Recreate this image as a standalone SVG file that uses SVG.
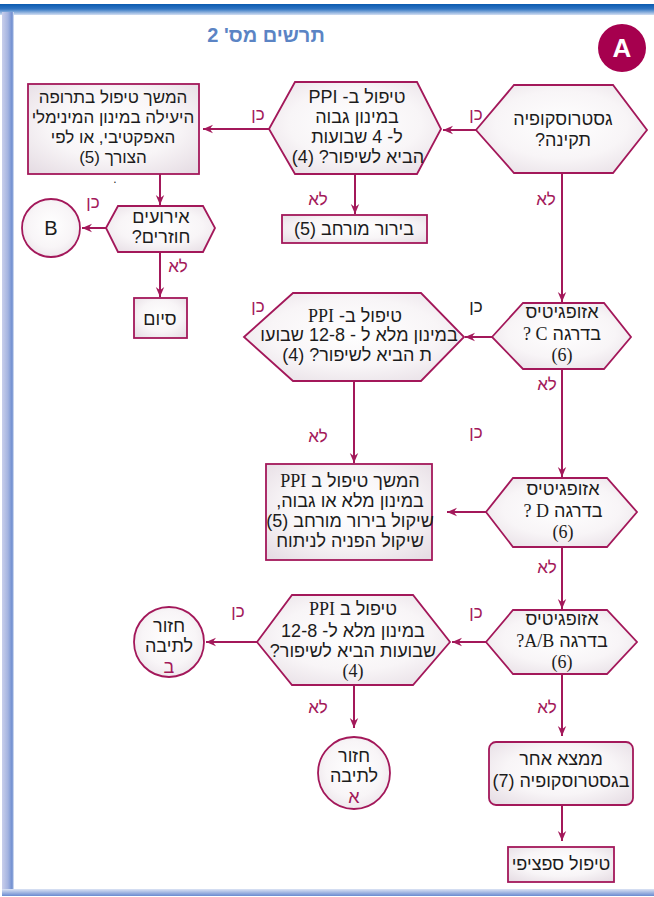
<svg xmlns="http://www.w3.org/2000/svg" width="654" height="897" viewBox="0 0 654 897">
<defs>
<linearGradient id="topbar" x1="0" y1="0" x2="0" y2="1"><stop offset="0" stop-color="#0a5ab0"/><stop offset="0.45" stop-color="#2f74c2"/><stop offset="1" stop-color="#d3def2"/></linearGradient>
<linearGradient id="leftbar" x1="0" y1="0" x2="1" y2="0"><stop offset="0" stop-color="#c9cfeb"/><stop offset="0.5" stop-color="#a4b3e0"/><stop offset="0.85" stop-color="#6f8ed0"/><stop offset="1" stop-color="#e8eef9"/></linearGradient>
<linearGradient id="botbar" x1="0" y1="0" x2="0" y2="1"><stop offset="0" stop-color="#dbe3f4"/><stop offset="1" stop-color="#6a8bd0"/></linearGradient>
<radialGradient id="g" cx="0.5" cy="0.45" r="0.7"><stop offset="0" stop-color="#ffffff"/><stop offset="0.55" stop-color="#f8f5f7"/><stop offset="1" stop-color="#e6dde4"/></radialGradient>
<marker id="ah" viewBox="0 0 10 10" refX="10" refY="5" markerWidth="11" markerHeight="10" markerUnits="userSpaceOnUse" orient="auto"><path d="M0,0.8 L10,5 L0,9.2 L3.2,5 z" fill="#a3185a"/></marker>
</defs>
<style>
.n{fill:url(#g);stroke:#a3185a;stroke-width:1.8}
.t{font-family:"Liberation Sans",Arial,sans-serif;font-size:18px;fill:#1c1c1c;text-anchor:middle;direction:rtl}
.s{font-family:"Liberation Serif","Times New Roman",serif}
.l{font-family:"Liberation Sans",Arial,sans-serif;font-size:17px;fill:#a3185a;text-anchor:middle;direction:rtl}
.c{stroke:#a3185a;stroke-width:2;fill:none;marker-end:url(#ah)}
</style>
<rect x="0" y="0" width="654" height="897" fill="#ffffff"/>
<g id="frame">
<rect x="0" y="4" width="654" height="11" fill="url(#topbar)"/>
<rect x="2" y="12" width="12" height="884" fill="url(#leftbar)"/>
<rect x="2" y="889" width="652" height="7" fill="url(#botbar)"/>
</g>
<g id="title"><text x="266" y="42" style="font-family:'Liberation Sans',Arial,sans-serif;font-size:20px;font-weight:bold;fill:#5b84c4;text-anchor:middle;direction:rtl">תרשים מס' 2</text></g>
<g id="badgeA"><circle cx="622" cy="48" r="24" fill="#a6004e"/><text x="622" y="57" style="font-family:'Liberation Sans',Arial,sans-serif;font-size:26px;font-weight:bold;fill:#ffffff;text-anchor:middle">A</text></g>

<g id="connectors">
<line class="c" x1="476" y1="130" x2="443" y2="130"/>
<line class="c" x1="269" y1="129" x2="203" y2="129"/>
<line class="c" x1="355" y1="174" x2="355" y2="214"/>
<line class="c" x1="160" y1="174" x2="160" y2="205"/>
<line class="c" x1="106" y1="228" x2="82" y2="228"/>
<line class="c" x1="160" y1="252" x2="160" y2="297"/>
<line class="c" x1="562" y1="173" x2="562" y2="302"/>
<line class="c" x1="492" y1="337" x2="465" y2="337"/>
<line class="c" x1="354" y1="381" x2="354" y2="463"/>
<line class="c" x1="562" y1="369" x2="562" y2="477"/>
<line class="c" x1="486" y1="512" x2="447" y2="512"/>
<line class="c" x1="562" y1="547" x2="562" y2="609"/>
<line class="c" x1="486" y1="642" x2="452" y2="642"/>
<line class="c" x1="257" y1="642" x2="206" y2="642"/>
<line class="c" x1="354" y1="685" x2="354" y2="728"/>
<line class="c" x1="562" y1="674" x2="562" y2="736"/>
<line class="c" x1="562" y1="805" x2="562" y2="841"/>
</g>

<g id="labels">
<text class="l" x="476" y="120">כן</text>
<text class="l" x="546" y="205">לא</text>
<text class="l" x="258" y="120">כן</text>
<text class="l" x="318" y="205">לא</text>
<text class="l" x="93" y="208">כן</text>
<text class="l" x="178" y="272">לא</text>
<text class="l" x="476" y="312" style="fill:#1c1c1c">כן</text>
<text class="l" x="258" y="312">כן</text>
<text class="l" x="547" y="390">לא</text>
<text class="l" x="476" y="438">כן</text>
<text class="l" x="318" y="442">לא</text>
<text class="l" x="547" y="573">לא</text>
<text class="l" x="476" y="618">כן</text>
<text class="l" x="238" y="617">כן</text>
<text class="l" x="318" y="713">לא</text>
<text class="l" x="547" y="713">לא</text>
</g>

<g id="n1">
<polygon class="n" points="476,130 514,85 613,85 647,130 613,173 514,173"/>
<text class="t" x="563" y="125">גסטרוסקופיה</text>
<text class="t" x="563" y="146">תקינה?</text>
</g>
<g id="n2">
<polygon class="n" points="269,129 295,82 417,82 441,129 417,174 295,174"/>
<text class="t" x="357" y="103">טיפול ב- PPI</text>
<text class="t" x="357" y="123">במינון גבוה</text>
<text class="t" x="357" y="143">ל- 4 שבועות</text>
<text class="t" x="358" y="163">הביא לשיפור? (4)</text>
</g>
<g id="n3">
<rect class="n" x="28" y="84" width="171" height="90"/>
<text class="t" x="113" y="103" style="font-size:17px">המשך טיפול בתרופה</text>
<text class="t" x="113" y="123" style="font-size:17px">היעילה במינון המינימלי</text>
<text class="t" x="113" y="143" style="font-size:17px">האפקטיבי, או לפי</text>
<text class="t" x="113" y="163" style="font-size:17px">הצורך (5)</text>
<text class="t" x="115" y="183" style="font-size:12px">.</text>
</g>
<g id="n4">
<rect class="n" x="282" y="215" width="145" height="28"/>
<text class="t" x="354" y="235">בירור מורחב (5)</text>
</g>
<g id="n5">
<polygon class="n" points="106,228 118,206 203,206 215,228 203,252 118,252"/>
<text class="t" x="161" y="223">אירועים</text>
<text class="t" x="161" y="243">חוזרים?</text>
</g>
<g id="n6">
<circle class="n" cx="51" cy="228" r="29"/>
<text class="t" x="51" y="235" style="font-size:20px">B</text>
</g>
<g id="n7">
<rect class="n" x="134" y="298" width="53" height="40"/>
<text class="t" x="160" y="325">סיום</text>
</g>
<g id="n8">
<polygon class="n" points="492,337 523,303 604,303 631,337 604,369 523,369"/>
<text class="t" x="562" y="318">אזופגיטיס</text>
<text class="t" x="562" y="340">בדרגה <tspan class="s">C ?</tspan></text>
<text class="t s" x="562" y="361">(6)</text>
</g>
<g id="n9">
<polygon class="n" points="244,337 293,293 421,293 464,337 421,381 293,381"/>
<text class="t" x="355" y="322">טיפול ב- <tspan class="s">PPI</tspan></text>
<text class="t" x="359" y="341">במינון מלא ל - 12-8 שבועו</text>
<text class="t" x="357" y="361">ת הביא לשיפור? (4)</text>
</g>
<g id="n10">
<rect class="n" x="266" y="464" width="166" height="96"/>
<text class="t" x="350" y="487">המשך טיפול ב  <tspan class="s">PPI</tspan></text>
<text class="t" x="350" y="507">במינון מלא או גבוה,</text>
<text class="t" x="350" y="527">שיקול בירור מורחב (5)</text>
<text class="t" x="350" y="547">שיקול הפניה לניתוח</text>
</g>
<g id="n11">
<polygon class="n" points="486,512 513,478 607,478 637,512 607,547 513,547"/>
<text class="t" x="563" y="495">אזופגיטיס</text>
<text class="t" x="563" y="517">בדרגה <tspan class="s">D ?</tspan></text>
<text class="t s" x="563" y="538">(6)</text>
</g>
<g id="n12">
<polygon class="n" points="486,642 513,610 607,610 637,642 607,674 513,674"/>
<text class="t" x="562" y="625">אזופגיטיס</text>
<text class="t" x="562" y="647">בדרגה <tspan class="s">A/B?</tspan></text>
<text class="t s" x="562" y="668">(6)</text>
</g>
<g id="n13">
<polygon class="n" points="257,642 292,595 413,595 450,642 413,685 292,685"/>
<text class="t" x="353" y="615">טיפול ב <tspan class="s">PPI</tspan></text>
<text class="t" x="353" y="637">במינון מלא ל- 12-8</text>
<text class="t" x="353" y="657">שבועות הביא לשיפור?</text>
<text class="t s" x="353" y="677">(4)</text>
</g>
<g id="n14">
<circle class="n" cx="169" cy="642" r="35"/>
<text class="t" x="169" y="632">חזור</text>
<text class="t" x="169" y="652">לתיבה</text>
<text class="t" x="169" y="673" style="fill:#a3185a">ב</text>
</g>
<g id="n15">
<circle class="n" cx="354" cy="773" r="36"/>
<text class="t" x="354" y="762">חזור</text>
<text class="t" x="354" y="782">לתיבה</text>
<text class="t" x="354" y="803" style="fill:#a3185a">א</text>
</g>
<g id="n16">
<rect class="n" x="489" y="742" width="144" height="63" rx="7"/>
<text class="t" x="561" y="765">ממצא אחר</text>
<text class="t" x="561" y="787">בגסטרוסקופיה (7)</text>
</g>
<g id="n17">
<rect class="n" x="508" y="847" width="106" height="35"/>
<text class="t" x="561" y="870">טיפול ספציפי</text>
</g>
</svg>
